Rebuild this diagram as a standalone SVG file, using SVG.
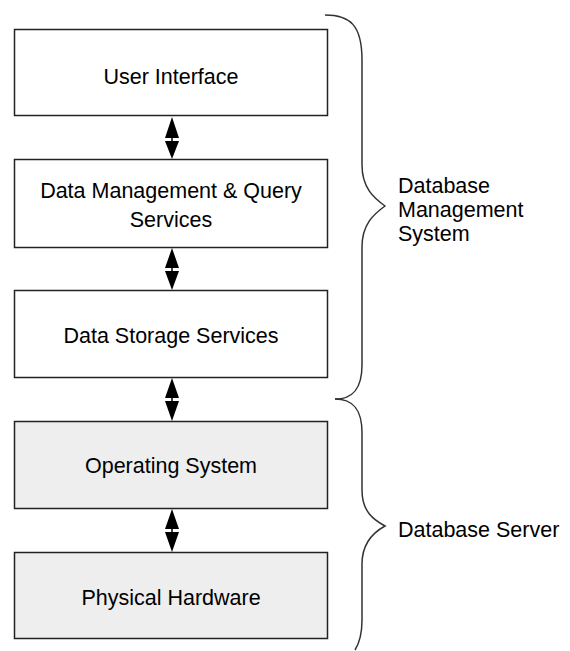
<svg xmlns="http://www.w3.org/2000/svg" width="570" height="651" viewBox="0 0 570 651">
<style>
.box{stroke:#222;stroke-width:1.5;fill:#fff}
.shade{fill:#eeeeee}
.t{font-family:"Liberation Sans",Arial,sans-serif;font-size:21.5px;fill:#000}
.c{text-anchor:middle}
.brace{fill:none;stroke:#333;stroke-width:1.5}
.ah{fill:#000}
</style>
<rect width="570" height="651" fill="#fff"/>
<g id="ui"><rect class="box" x="14.5" y="29.5" width="313" height="86"/><text class="t c" x="171" y="83.5">User Interface</text></g>
<g id="dmqs"><rect class="box" x="14.5" y="159.5" width="313" height="88"/><text class="t c" x="171" y="198">Data Management &amp; Query</text><text class="t c" x="171" y="227">Services</text></g>
<g id="dss"><rect class="box" x="14.5" y="290.5" width="313" height="87"/><text class="t c" x="171" y="343">Data Storage Services</text></g>
<g id="os"><rect class="box shade" x="14.5" y="421.5" width="313" height="87"/><text class="t c" x="171" y="473">Operating System</text></g>
<g id="hw"><rect class="box shade" x="14.5" y="552.5" width="313" height="86"/><text class="t c" x="171" y="605">Physical Hardware</text></g>
<g id="connectors">
<g id="a1"><polygon class="ah" points="172,117 165,138 179,138"/><polygon class="ah" points="165,141 179,141 172,159"/><line x1="172" y1="137" x2="172" y2="142" stroke="#000" stroke-width="1.5"/></g>
<g id="a2"><polygon class="ah" points="172,248 165,268 179,268"/><polygon class="ah" points="165,271 179,271 172,290"/><line x1="172" y1="267" x2="172" y2="272" stroke="#000" stroke-width="1.5"/></g>
<g id="a3"><polygon class="ah" points="172,378 165,398 179,398"/><polygon class="ah" points="165,401 179,401 172,421"/><line x1="172" y1="397" x2="172" y2="402" stroke="#000" stroke-width="1.5"/></g>
<g id="a4"><polygon class="ah" points="172,509 165,529 179,529"/><polygon class="ah" points="165,532 179,532 172,552"/><line x1="172" y1="528" x2="172" y2="533" stroke="#000" stroke-width="1.5"/></g>
</g>
<g id="brace-dbms"><path class="brace" d="M325,15 C350,15 362,25 362,60 L362,165 C362,188 374,198 385,206 C374,214 362,224 362,247 L362,365 C362,390 352,399 335,399"/><text class="t" x="398" y="193">Database</text><text class="t" x="398" y="217">Management</text><text class="t" x="398" y="241">System</text></g>
<g id="brace-server"><path class="brace" d="M335,399 C352,399 362,408 362,433 L362,490 C362,512 374,520 385,526 C374,532 362,542 362,564 L362,620 C362,634 360,642 355,650"/><text class="t" x="398" y="537">Database Server</text></g>
</svg>
